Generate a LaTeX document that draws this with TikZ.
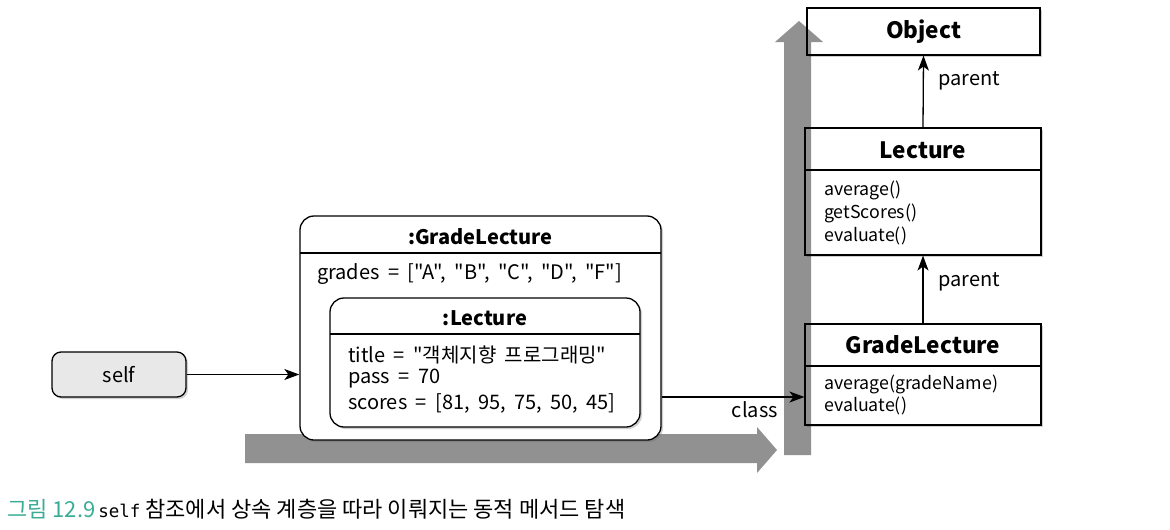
\documentclass[tikz,border=0pt]{standalone}
\usepackage{fontspec}
\setmainfont{Noto Sans CJK KR}[Ligatures=TeXOff]
\newfontfamily\monof{DejaVu Sans Mono}
\usetikzlibrary{shadows,arrows.meta}
\definecolor{capteal}{RGB}{58,172,150}
\definecolor{selfgray}{RGB}{232,232,232}
\definecolor{flowgray}{RGB}{145,145,145}
\newcommand\myattrfont{\fontsize{20}{24}\selectfont\spaceskip=0.42em\relax}
\begin{document}
\begin{tikzpicture}[x=1pt,y=-1pt,
  shad/.style={drop shadow={opacity=0.3,shadow xshift=2pt,shadow yshift=-2pt,fill=black!60}},
  objbox/.style={draw=black,line width=1.3pt,fill=white,rounded corners=14pt,shad,inner sep=0pt},
  selfbox/.style={draw=black,line width=1.3pt,fill=selfgray,rounded corners=9pt,shad,inner sep=0pt,
     minimum width=134pt,minimum height=45pt,font=\fontsize{20}{24}\selectfont},
  clsbox/.style={draw=black,line width=1.1pt,fill=white,shad,inner sep=0pt},
  ttl/.style={inner sep=0pt,font=\bfseries\fontsize{22.5}{26}\selectfont},
  ottl/.style={inner sep=0pt,font=\bfseries\fontsize{20}{24}\selectfont},
  attr/.style={inner sep=0pt,anchor=west,font=\myattrfont},
  meth/.style={inner sep=0pt,anchor=west,font=\fontsize{17.8}{21}\selectfont},
  lbl/.style={inner sep=0pt,font=\fontsize{20}{24}\selectfont},
  conn/.style={line width=1.3pt,-{Stealth[length=15pt,width=11pt,inset=4pt]}},
  flow/.style={fill=flowgray,draw=none},
  divider/.style={line width=1.1pt}]
\useasboundingbox (0,0) rectangle (1170,530);

% horizontal grey flow arrow (behind the object box)
\fill[flow] (245,434) -- (757,434) -- (757,427) -- (777,450) -- (757,473) -- (757,463) -- (245,463) -- cycle;

% self reference
\node[selfbox] (self) at (119,374.5) {self};

% outer object :GradeLecture
\node[objbox,minimum width=361pt,minimum height=224pt] (gl) at (480.5,328) {};
\node[ottl] (glt) at (480.5,237) {:GradeLecture};
\draw[divider] (300,253) -- (661,253);
\node[attr] (glg) at (317,274) {grades = ["A", "B", "C", "D", "F"]};

% inner object :Lecture
\node[objbox,minimum width=310pt,minimum height=129pt] (lec) at (485,362.5) {};
\node[ottl] (lect) at (485,318) {:Lecture};
\draw[divider] (330,334) -- (640,334);
\node[attr] (la1) at (348,355) {title = "객체지향 프로그래밍"};
\node[attr] (la2) at (348,379) {pass = 70};
\node[attr] (la3) at (348,403) {scores = [81, 95, 75, 50, 45]};

% class boxes
\node[clsbox,minimum width=233pt,minimum height=47pt] (cobj) at (923.5,31.5) {};
\node[ttl] (cobjt) at (923.5,32) {Object};

\node[clsbox,minimum width=236pt,minimum height=127pt] (clec) at (923,191.5) {};
\node[ttl] (clect) at (923,150) {Lecture};
\draw[divider] (805,170) -- (1041,170);
\node[meth] (cm1) at (824,190) {average()};
\node[meth] (cm2) at (824,213) {getScores()};
\node[meth] (cm3) at (824,236) {evaluate()};

\node[clsbox,minimum width=236pt,minimum height=101pt] (cgl) at (923,374.5) {};
\node[ttl] (cglt) at (923,345) {GradeLecture};
\draw[divider] (805,366) -- (1041,366);
\node[meth] (cg1) at (824,384) {average(gradeName)};
\node[meth] (cg2) at (824,406) {evaluate()};

% vertical grey flow arrow (blended over the class boxes)
\begin{scope}[blend mode=multiply]
\fill[flow] (784,455) -- (784,42) -- (775,42) -- (799,21) -- (823,42) -- (811,42) -- (811,455) -- cycle;
\end{scope}

% connectors
\draw[conn] (self.east) -- (self.east -| gl.west);
\coordinate (clsy) at (0,397);
\draw[conn] (gl.east |- clsy) -- (cgl.west |- clsy);
\node[lbl,anchor=east] (clsl) at (778,410) {class};
\draw[conn] (cgl.north) -- (clec.south);
\draw[conn] (clec.north) -- (cobj.south);
\node[lbl,anchor=west] (p1) at (938,81) {parent};
\node[lbl,anchor=west] (p2) at (938,282) {parent};

% caption
\node[inner sep=0pt,anchor=west,font=\fontsize{22}{26}\selectfont] (cap) at (7,509)
  {\textcolor{capteal}{그림 12.9}\hspace{3pt}{\monof\fontsize{17.5}{20}\selectfont self}\hspace{5pt}참조에서 상속 계층을 따라 이뤄지는 동적 메서드 탐색};
\end{tikzpicture}
\end{document}
